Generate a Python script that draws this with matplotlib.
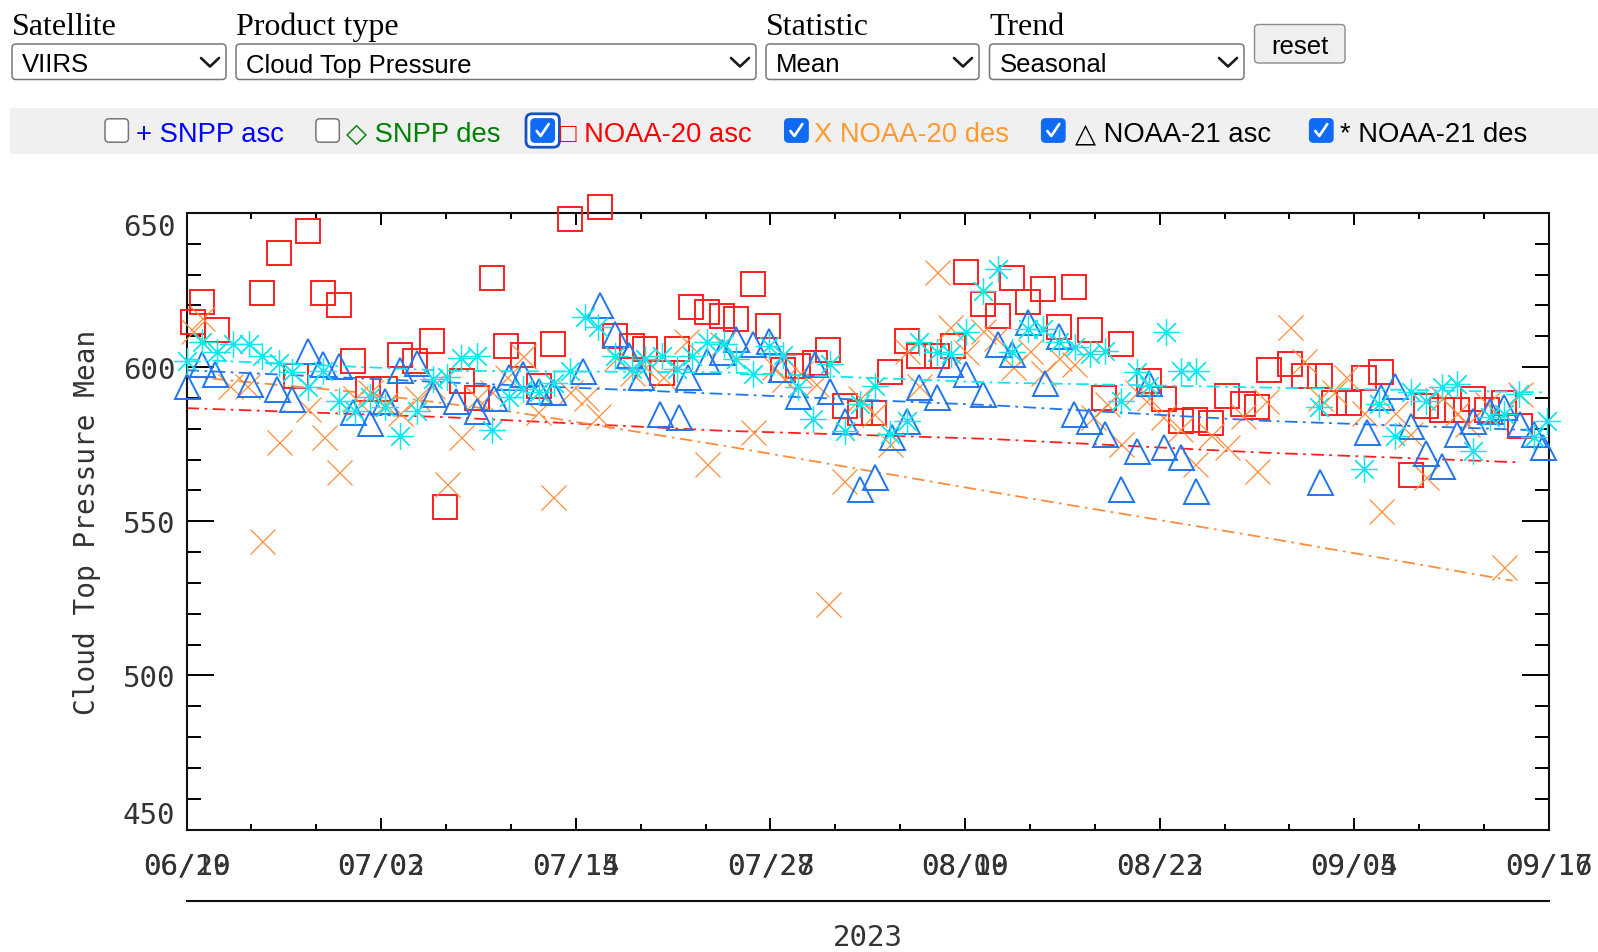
import numpy as np
import matplotlib
matplotlib.use("Agg")
import matplotlib.pyplot as plt
from matplotlib.patches import FancyBboxPatch, Rectangle

# ---- data (days since 06/19/2023, value in hPa) ----
n20_asc_day = [0.4, 1.0, 2.0, 5.0, 6.1, 7.2, 8.0, 9.0, 10.1, 11.0, 12.0, 13.1, 14.1, 15.1,
               16.2, 17.1, 18.2, 19.2, 20.2, 21.1, 22.2, 23.3, 24.2, 25.3, 27.3, 28.3, 29.4,
               30.3, 31.4, 32.4, 33.3, 34.4, 35.4, 36.3, 37.4, 38.4, 39.4, 40.4, 41.5, 42.4,
               43.5, 44.5, 45.4, 46.5, 47.6, 48.4, 49.6, 50.6, 51.5, 52.6, 53.6, 54.5, 55.6,
               56.6, 57.6, 58.6, 59.7, 60.6, 61.7, 63.6, 64.6, 65.7, 66.6, 67.7, 68.7, 69.8,
               70.7, 71.5, 72.9, 73.8, 74.9, 75.8, 76.8, 77.8, 78.9, 80.9, 81.9, 82.9, 83.9,
               85.0, 85.9, 87.0, 88.1]
n20_asc_val = [614.5, 621, 612, 624, 637, 597, 644, 624, 620, 602, 593, 593, 604, 602,
               608.5, 554.5, 595.5, 590, 629, 607, 604, 594, 607.5, 648, 652, 610, 607,
               606, 598, 606, 619.5, 618, 616.5, 615.5, 627, 613.5, 599, 600.5, 601.5, 605.5,
               587.5, 585, 585, 598.5, 608.5, 603.5, 603.5, 607, 631, 620.5, 616.5, 629, 621,
               625.5, 613, 626, 612, 590, 607.5, 595.5, 589.5, 582.5, 583, 582, 590.5, 588,
               587, 599, 601, 597, 597, 588.5, 588.5, 596.5, 598.5, 565, 587.5, 586, 586,
               589.5, 586, 588.5, 581]

n20_des_day = [0.4, 1.0, 2.9, 4.0, 5.0, 6.1, 8.0, 9.1, 10.1, 11.1, 12.1, 13.1, 14.1, 15.2,
               16.2, 17.2, 18.1, 19.2, 20.2, 21.2, 22.2, 23.2, 24.2, 25.3, 26.4, 27.2, 28.4,
               29.4, 30.3, 31.5, 33.0, 34.4, 35.4, 37.4, 38.8, 39.5, 40.5, 41.6, 42.4, 43.4,
               44.5, 45.4, 46.5, 47.6, 48.4, 49.6, 50.4, 51.5, 52.6, 53.5, 54.6, 55.7, 56.6,
               57.6, 58.6, 59.9, 60.8, 61.7, 62.8, 63.6, 64.5, 65.6, 66.6, 67.7, 68.7, 69.8,
               70.7, 71.3, 72.9, 73.8, 74.9, 75.8, 76.6, 77.8, 78.9, 79.8, 80.8, 81.9, 82.9,
               83.9, 84.6, 85.9, 87.0, 88.1]
n20_des_val = [611.7, 616, 594, 594, 543.7, 575.6, 586.4, 577.2, 565.9, 590, 592, 588, 585, 590,
               594, 562, 577.2, 590, 592, 596.8, 603.7, 585.3, 557.8, 592, 590, 584.2, 603,
               598, 600, 596.7, 608.5, 568.6, 607.5, 578.8, 600, 596, 598, 594.5, 523.1, 563,
               590, 584.8, 575, 605.3, 594, 630.7, 612.9, 605, 611.8, 609.6, 600, 605.3, 598,
               603, 601, 583.7, 588, 575, 592, 590, 583.7, 580, 568.5, 578, 574, 584,
               566.4, 589, 612.9, 602, 590, 592, 596.7, 585, 553.4, 585, 578.3, 564.2, 590,
               585, 581.5, 588, 535, 591.3]

n21_asc_day = [0.0, 1.0, 1.9, 4.2, 6.0, 7.0, 8.0, 9.0, 10.1, 11.0, 12.1, 13.1, 14.1, 15.2,
               16.3, 17.8, 19.2, 20.3, 21.3, 22.2, 23.3, 24.2, 26.2, 27.3, 28.3, 29.2, 30.0,
               31.3, 32.5, 33.1, 34.4, 35.4, 36.3, 37.4, 38.5, 39.3, 40.4, 41.5, 42.5, 43.5,
               44.5, 45.5, 46.6, 47.6, 48.4, 49.6, 50.4, 51.5, 52.6, 53.6, 54.5, 55.6, 56.7,
               57.6, 58.6, 59.6, 60.7, 61.7, 62.8, 63.6, 64.6, 65.7, 66.7, 74.9, 78.0, 78.9,
               79.8, 80.9, 81.9, 82.9, 83.9, 85.0, 86.1, 87.0, 88.1, 89.0, 89.6]
n21_asc_val = [594, 601, 597.7, 594.5, 593, 589.6, 605.3, 601, 600.4, 585.3, 582, 589, 599, 601.5,
               591.3, 589, 585.8, 590, 596.7, 597.7, 592.3, 592, 598.8, 620, 610.7, 604, 596.7,
               584.8, 583.7, 596.7, 602, 605, 609, 607.5, 608.5, 599.4, 590.7, 601, 592.3, 582.6,
               560.4, 564.2, 577.2, 582.6, 593.4, 590.2, 601, 597.7, 591.3, 607.5, 604.2, 614.5, 595,
               610.2, 584.8, 582.6, 578.3, 560.5, 572.9, 595, 574, 570.7, 559.9, 562.6, 578.8, 590.2,
               594, 581, 572.3, 568, 578.3, 582.6, 585.8, 587, 581.5, 578.3, 574]

n21_des_day = [0.0, 1.0, 2.0, 3.1, 4.1, 5.0, 6.1, 7.0, 8.0, 9.0, 10.1, 11.1, 12.1, 13.1,
               14.1, 15.2, 16.3, 17.2, 18.1, 19.2, 20.2, 21.3, 22.2, 23.3, 24.3, 25.3, 26.3,
               27.2, 28.3, 29.4, 30.3, 31.4, 32.4, 33.4, 34.4, 35.5, 36.3, 37.4, 38.5, 39.4,
               40.4, 41.4, 42.5, 43.5, 44.5, 45.5, 46.5, 47.6, 48.4, 49.6, 50.5, 51.5, 52.6,
               53.6, 54.5, 55.6, 56.6, 57.6, 58.7, 59.7, 60.7, 61.7, 62.8, 63.6, 64.7, 65.7,
               66.7, 74.8, 77.8, 78.8, 79.8, 80.9, 81.9, 82.9, 83.9, 85.0, 86.1, 87.0, 88.0,
               89.0, 89.9]
n21_des_val = [602, 608, 604.8, 607.5, 607.5, 603.7, 601.5, 598.3, 593.4, 598.8, 589, 585.8, 590.2, 587,
               577.7, 585.8, 596, 596.7, 603, 603.7, 579.6, 590.2, 592.9, 591.8, 595, 598.8, 616.1,
               612.9, 603.7, 599.4, 602.6, 603.7, 599.4, 603.7, 608, 607.5, 602.6, 597.7, 607, 604,
               593.4, 583.2, 601, 579.4, 588, 594, 578.3, 582.6, 608, 604.8, 604.2, 611.3, 624.8,
               631.8, 604.8, 612.3, 612.3, 608, 606.4, 604.2, 605.3, 589, 598.3, 594, 611.3, 598.8,
               598.8, 587, 567, 588, 577.7, 591.8, 589, 593.4, 594.5, 572.9, 583.7, 584.8, 591.3,
               577.2, 582.6]

# seasonal trend curves
n20_asc_tr_day = [0, 17.4, 35.2, 53.1, 70.9, 88.1]
n20_asc_tr_val = [586.7, 583.7, 579.4, 576.7, 572.3, 569.1]
n20_des_tr_day = [0, 11, 21.8, 35.5, 53.3, 71.1, 87.6]
n20_des_tr_val = [597, 592, 585.3, 574.5, 559.4, 544.8, 530.7]
n21_asc_tr_day = [0, 17.4, 35.5, 53.3, 71.1, 89.8]
n21_asc_tr_val = [599, 595, 591.3, 587.6, 582.6, 579.4]
n21_des_tr_day = [0, 17.4, 35.5, 53.3, 71.1, 89.8]
n21_des_tr_val = [602.5, 598.8, 598.3, 595, 593.4, 591.8]

# the IDL plot draws two overlapping date axes
tick_labels_a = ["06/19", "07/02", "07/14", "07/27", "08/09", "08/22", "09/04", "09/16"]
tick_labels_b = ["06/20", "07/03", "07/15", "07/28", "08/10", "08/23", "09/05", "09/17"]

RED = "#ff1f1f"
ORANGE = "#ff8c3a"
BLUE = "#1f76ee"
CYAN = "#12e6ef"
MONO = "DejaVu Sans Mono"
INK = "#333333"

W, H = 1598, 953
fig = plt.figure(figsize=(W / 100, H / 100), dpi=100)

# ---- page widgets, drawn in pixel coordinates ----
ui = fig.add_axes([0, 0, 1, 1], zorder=0)
ui.set_xlim(0, W)
ui.set_ylim(H, 0)
ui.axis("off")

serif = "Liberation Serif"
sans = ["Liberation Sans", "DejaVu Sans"]


def select(x0, x1, label, value):
    ui.text(x0, 34.7, label, family=serif, fontsize=23, va="baseline")
    ui.add_patch(FancyBboxPatch((x0, 45), x1 - x0, 35.5,
                                boxstyle="round,pad=0,rounding_size=4",
                                fc="white", ec="#767676", lw=1.1))
    ui.text(x0 + 10, 72.5, value, family=sans, fontsize=18.5, va="baseline")
    ui.plot([x1 - 25, x1 - 16, x1 - 7], [59, 67.5, 59], color="#1a1a1a",
            lw=1.9, solid_capstyle="round", solid_joinstyle="round")


select(12, 226, "Satellite", "VIIRS")
select(236, 756, "Product type", "Cloud Top Pressure")
select(766, 979, "Statistic", "Mean")
select(989.5, 1244, "Trend", "Seasonal")

ui.add_patch(FancyBboxPatch((1254.5, 25.5), 90.5, 38.5,
                            boxstyle="round,pad=0,rounding_size=4",
                            fc="#efefef", ec="#8a8a8a", lw=1.0))
ui.text(1299.8, 54, "reset", family=sans, fontsize=18.5, ha="center", va="baseline")

# legend strip with checkboxes
ui.add_patch(Rectangle((10, 109), W - 10, 46, fc="#f0f0f0", ec="none"))

legend_items = [
    (116.7, False, False, 135.5, "+ SNPP asc", "#0000ff"),
    (327.6, False, False, 346.5, "\u25c7 SNPP des", "#008000"),
    (542.7, True, True, 559.5, "\u25a1 NOAA-20 asc", "#ff0000"),
    (796.4, True, False, 814.3, "X NOAA-20 des", "#ff9a2e"),
    (1053.3, True, False, 1075, "\u25b3 NOAA-21 asc", "black"),
    (1321.3, True, False, 1340, "* NOAA-21 des", "black"),
]
cy, s = 131.5, 23.4
for cx, checked, focus, tx, label, col in legend_items:
    if focus:
        ui.add_patch(FancyBboxPatch((cx - s / 2 - 5, cy - s / 2 - 5), s + 10, s + 10,
                                    boxstyle="round,pad=0,rounding_size=6",
                                    fc="white", ec="#1554c0", lw=2.0))
    if checked:
        ui.add_patch(FancyBboxPatch((cx - s / 2, cy - s / 2), s, s,
                                    boxstyle="round,pad=0,rounding_size=4",
                                    fc="#0f6bf5", ec="#0f6bf5", lw=1.0))
        ui.plot([cx - 6, cx - 2, cx + 6], [cy + 0.5, cy + 5.5, cy - 6.5],
                color="white", lw=1.9, solid_capstyle="round",
                solid_joinstyle="round")
    else:
        ui.add_patch(FancyBboxPatch((cx - s / 2, cy - s / 2), s, s,
                                    boxstyle="round,pad=0,rounding_size=4",
                                    fc="white", ec="#767676", lw=1.1))
    ui.text(tx, 141.6, label, family=sans, fontsize=19.7, color=col, va="baseline")

# ---- the plot ----
left, right, top, bottom = 186.5, 1549, 214, 830.5
ax = fig.add_axes([left / W, 1 - bottom / H, (right - left) / W, (bottom - top) / H],
                  zorder=1)
ax.set_xlim(0, 90)
ax.set_ylim(450, 650)

dash_dot = (0, (7, 3, 1.5, 3))
series = [
    (n20_asc_day, n20_asc_val, n20_asc_tr_day, n20_asc_tr_val, RED,
     dict(marker="s", ms=17.5, mew=1.4)),
    (n20_des_day, n20_des_val, n20_des_tr_day, n20_des_tr_val, ORANGE,
     dict(marker="x", ms=18, mew=0.9)),
    (n21_asc_day, n21_asc_val, n21_asc_tr_day, n21_asc_tr_val, BLUE,
     dict(marker="^", ms=18, mew=1.4)),
    (n21_des_day, n21_des_val, n21_des_tr_day, n21_des_tr_val, CYAN,
     dict(marker=(8, 2, 0), ms=19, mew=0.9)),
]
for i, (d, v, td, tv, col, mk) in enumerate(series):
    ax.plot(td, tv, color=col, lw=1.3, ls=dash_dot, zorder=2 + 2 * i)
    ax.plot(d, v, ls="none", mfc="none", mec=col, clip_on=False,
            zorder=3 + 2 * i, **mk)

for sp in ax.spines.values():
    sp.set_linewidth(1.5)
    sp.set_color("#111111")

ax.set_yticks(np.arange(450, 651, 50))
ax.set_yticks(np.arange(450, 651, 10), minor=True)
ax.set_xticks(np.linspace(0, 90, 8))
ax.set_xticks(np.linspace(0, 90, 22), minor=True)
ax.tick_params(axis="y", which="major", direction="in", length=19.5, width=1.4,
               left=True, right=True, labelsize=21, pad=8, labelcolor=INK)
ax.tick_params(axis="y", which="minor", direction="in", length=10, width=1.4,
               left=True, right=True)
ax.tick_params(axis="x", which="major", direction="in", length=8.5, width=1.4,
               top=True, bottom=True, labelbottom=False)
ax.tick_params(axis="x", which="minor", direction="in", length=4.5, width=1.4,
               top=True, bottom=True)
ylabels = ax.get_yticklabels()
for lbl in ylabels:
    lbl.set_fontfamily(MONO)
# IDL keeps the end labels inside the axis range
ylabels[0].set_verticalalignment("bottom")
ylabels[-1].set_verticalalignment("top")

xtr = ax.get_xaxis_transform()
for pos, la, lb in zip(np.linspace(0, 90, 8), tick_labels_a, tick_labels_b):
    for txt in (la, lb):
        ax.text(pos, -0.0576, txt, transform=xtr, ha="center", va="center",
                family=MONO, fontsize=21, color=INK, clip_on=False)

ax.plot([0, 1], [-0.116, -0.116], transform=ax.transAxes, color="#111111",
        lw=1.5, clip_on=False)
ax.text(0.5, -0.1737, "2023", transform=ax.transAxes, ha="center", va="center",
        family=MONO, fontsize=21, color=INK)
ax.text(-0.073, 0.5, "Cloud Top Pressure Mean", transform=ax.transAxes,
        rotation=90, ha="center", va="center", family=MONO, fontsize=20,
        color=INK)

fig.savefig("out.png", dpi=100)
